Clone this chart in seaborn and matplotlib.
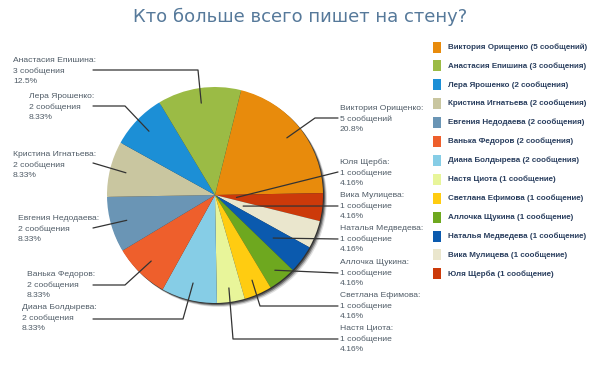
import numpy as np
import matplotlib
matplotlib.use("Agg")
import matplotlib.pyplot as plt
import seaborn as sns
from matplotlib.patches import Circle, Rectangle

# данные: кто сколько написал на стену
names = ["Виктория Орищенко", "Юля Щерба", "Вика Мулицева", "Наталья Медведева",
         "Аллочка Щукина", "Светлана Ефимова", "Настя Циота", "Диана Болдырева",
         "Ванька Федоров", "Евгения Недодаева", "Кристина Игнатьева", "Лера Ярошенко",
         "Анастасия Епишина"]
counts = [5, 1, 1, 1, 1, 1, 1, 2, 2, 2, 2, 2, 3]
count_words = ["сообщений", "сообщение", "сообщение", "сообщение", "сообщение", "сообщение",
               "сообщение", "сообщения", "сообщения", "сообщения", "сообщения", "сообщения",
               "сообщения"]
pct_labels = ["20.8%", "4.16%", "4.16%", "4.16%", "4.16%", "4.16%", "4.16%",
              "8.33%", "8.33%", "8.33%", "8.33%", "8.33%", "12.5%"]
colors = ["#E88B0C", "#CC3A0A", "#EAE6CD", "#0B5AAE", "#6EA81F", "#FFCC11", "#E8F59A",
          "#86CDE6", "#EE5F2C", "#6A95B5", "#C9C6A0", "#1C8FD6", "#9BBB45"]
legend_order = [0, 12, 11, 10, 9, 8, 7, 6, 5, 4, 3, 2, 1]

# раскладка подписей (в пикселях картинки)
anchor_frac = [0.85, 0.2, 0.28, 0.67, 0.89, 0.86, 0.87, 0.84, 0.85, 0.85, 0.85, 0.85, 0.86]
text_pos = [(340, 119), (340, 173), (340, 206), (340, 239), (340, 273), (340, 306), (340, 339),
            (22, 318), (27, 285), (18, 229), (13, 165), (29, 107), (13, 71)]
line_end = [(338, 118), (338, 172), (338, 206), (338, 239), (338, 273), (338, 306), (338, 339),
            (93, 319), (93, 285), (93, 228), (93, 163), (93, 106), (93, 70)]
elbow = [(315, 118), None, None, None, None, (260, 306), (233, 339),
         (183, 319), (125, 285), None, None, (125, 106), (198, 70)]

W, H = 604, 378


def py(y):
    return H - y


sns.set_theme(style="white")
plt.rcParams['font.family'] = ['Liberation Sans', 'DejaVu Sans']

fig = plt.figure(figsize=(6.04, 3.78), dpi=100)
ax = fig.add_axes([0, 0, 1, 1])
cx, cy, r = 215, py(195), 108

# тень под диаграммой
for off, a in [(4, 0.12), (3, 0.25), (2, 0.4), (1, 0.5)]:
    ax.add_patch(Circle((cx + off, cy - off), r, color="black", alpha=a, lw=0, zorder=1))

wedges, _ = ax.pie(counts, colors=sns.color_palette(colors), startangle=76,
                   counterclock=False, center=(cx, cy), radius=r,
                   wedgeprops=dict(linewidth=0, zorder=2))

label_color = "#4F5B66"
for i, w in enumerate(wedges):
    th = np.deg2rad((w.theta1 + w.theta2) / 2)
    ax_x = cx + anchor_frac[i] * r * np.cos(th)
    ax_y = cy + anchor_frac[i] * r * np.sin(th)
    pts = [(ax_x, ax_y)]
    if elbow[i] is not None:
        pts.append((elbow[i][0], py(elbow[i][1])))
    pts.append((line_end[i][0], py(line_end[i][1])))
    xs, ys = zip(*pts)
    ax.plot(xs, ys, color="#333333", lw=0.9, zorder=3)
    txt = f"{names[i]}:\n{counts[i]} {count_words[i]}\n{pct_labels[i]}"
    ax.text(text_pos[i][0], py(text_pos[i][1]), txt, fontsize=6.1, color=label_color,
            ha="left", va="center", linespacing=1.6, zorder=4)

# легенда
for k, i in enumerate(legend_order):
    yc = 47 + k * 18.9
    ax.add_patch(Rectangle((433, py(yc) - 5.5), 8, 11, color=colors[i], lw=0))
    ax.text(448, py(yc), f"{names[i]} ({counts[i]} {count_words[i]})", fontsize=5.8,
            fontweight="bold", color="#2A3F5F", ha="left", va="center")

ax.text(300, py(17), "Кто больше всего пишет на стену?", fontsize=13, color="#56799A",
        ha="center", va="center", family=["DejaVu Sans"])

ax.set_xlim(0, W)
ax.set_ylim(0, H)
ax.set_aspect("auto")
ax.axis("off")
fig.savefig("out.png", dpi=100, facecolor="white")
